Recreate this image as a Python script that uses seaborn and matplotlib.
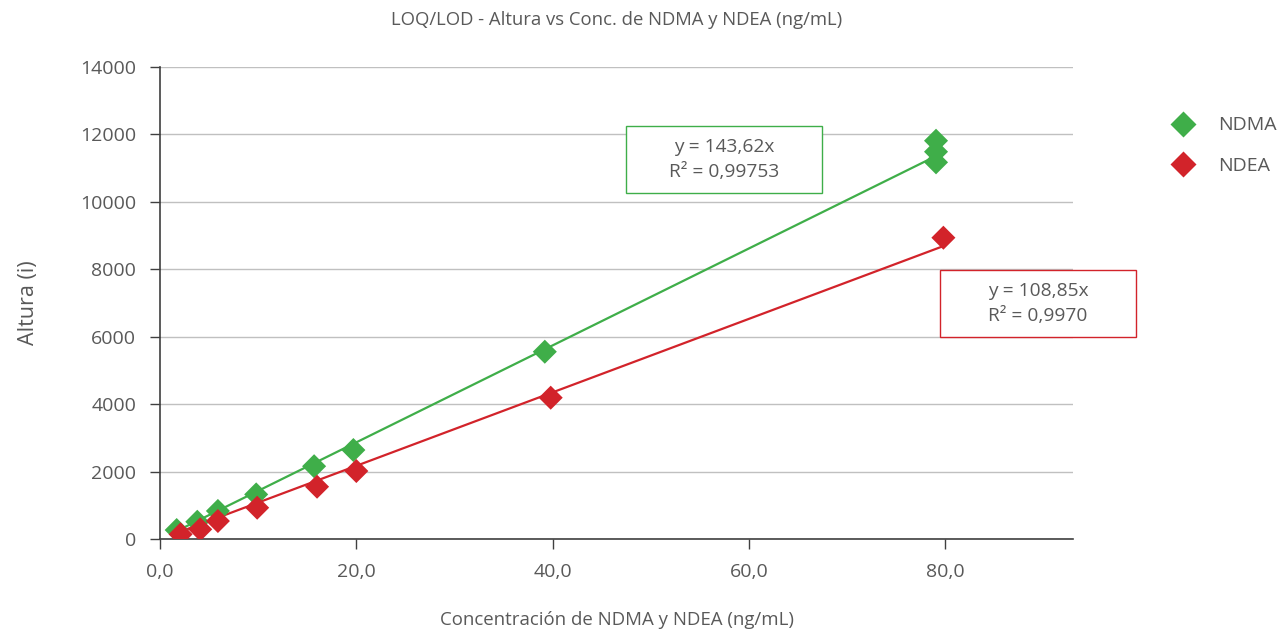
import numpy as np
import pandas as pd
import matplotlib
matplotlib.use("Agg")
import matplotlib.pyplot as plt
import seaborn as sns
from matplotlib.patches import Rectangle

# --- Datos ---
conc_ndma = [1.7, 3.8, 5.9, 9.8, 15.7, 19.7, 39.2, 79.05, 79.05, 79.05]
altura_ndma = [275, 520, 840, 1330, 2165, 2645, 5557, 11167, 11481, 11807]
conc_ndea = [2.1, 4.1, 5.9, 9.9, 16.0, 20.0, 39.8, 79.8]
altura_ndea = [148, 296, 542, 936, 1558, 2023, 4195, 8934]

pendiente = {"NDMA": 143.62, "NDEA": 108.85}
r2 = {"NDMA": "0,99753", "NDEA": "0,9970"}
colores = {"NDMA": "#3fae49", "NDEA": "#d2232a"}

df = pd.concat([
    pd.DataFrame({"Conc": conc_ndma, "Altura": altura_ndma, "Serie": "NDMA"}),
    pd.DataFrame({"Conc": conc_ndea, "Altura": altura_ndea, "Serie": "NDEA"}),
])

sns.set_theme(style="white")
plt.rcParams["font.family"] = ["Open Sans", "DejaVu Sans"]
gris = "#595959"

fig = plt.figure(figsize=(12.85, 6.31), dpi=100)
ax = fig.add_axes([0.1245, 0.1453, 0.7105, 0.749])

# --- Líneas de tendencia (y = m x) ---
for serie, m in pendiente.items():
    sub = df[df["Serie"] == serie]
    xs = np.array([sub["Conc"].min(), sub["Conc"].max()])
    ax.plot(xs, m * xs, color=colores[serie], lw=1.6, zorder=2)

sns.scatterplot(data=df, x="Conc", y="Altura", hue="Serie", palette=colores,
                marker="D", s=150, edgecolor="none", ax=ax, zorder=3)

ax.set_xlim(0, 93)
ax.set_ylim(0, 14000)
ax.set_xticks([0, 20, 40, 60, 80])
ax.set_xticklabels(["0,0", "20,0", "40,0", "60,0", "80,0"])
ax.set_yticks(range(0, 14001, 2000))
ax.yaxis.grid(True, color="#c0c0c0", lw=1)
ax.set_axisbelow(True)
sns.despine(ax=ax)
for s in ["left", "bottom"]:
    ax.spines[s].set_color("#404040")
    ax.spines[s].set_linewidth(1.2)
ax.tick_params(axis="both", direction="out", length=7, width=1, color="#404040",
               labelsize=14, labelcolor=gris, pad=10, left=True, bottom=True)

ax.set_title("LOQ/LOD - Altura vs Conc. de NDMA y NDEA (ng/mL)", fontsize=13.3,
             color=gris, pad=30)
ax.set_xlabel("Concentración de NDMA y NDEA (ng/mL)", fontsize=13.4, color=gris, labelpad=22)
ax.set_ylabel("Altura (i)", fontsize=15.5, color=gris, labelpad=30)

# --- Leyenda ---
handles, labels = ax.get_legend_handles_labels()
ax.get_legend().remove()
fig.legend(handles, labels, loc="center left", bbox_to_anchor=(0.8918, 0.7694),
           frameon=False, fontsize=14, labelcolor=gris, handletextpad=0.8,
           labelspacing=1.15, markerscale=1.1)

# --- Cuadros con ecuaciones ---
cajas = {"NDMA": (0.5634, 0.7472), "NDEA": (0.8078, 0.5190)}
for serie, (cx, cy) in cajas.items():
    w, h = 0.1525, 0.1062
    fig.patches.append(Rectangle((cx - w / 2, cy - h / 2), w, h, transform=fig.transFigure,
                                 facecolor="white", edgecolor=colores[serie], lw=1, zorder=5))
    txt = f"y = {pendiente[serie]:.2f}x".replace(".", ",") + f"\nR² = {r2[serie]}"
    fig.text(cx, cy, txt, ha="center", va="center", fontsize=13.8, color=gris,
             linespacing=1.45, zorder=6)

fig.savefig("out.png", dpi=100)
